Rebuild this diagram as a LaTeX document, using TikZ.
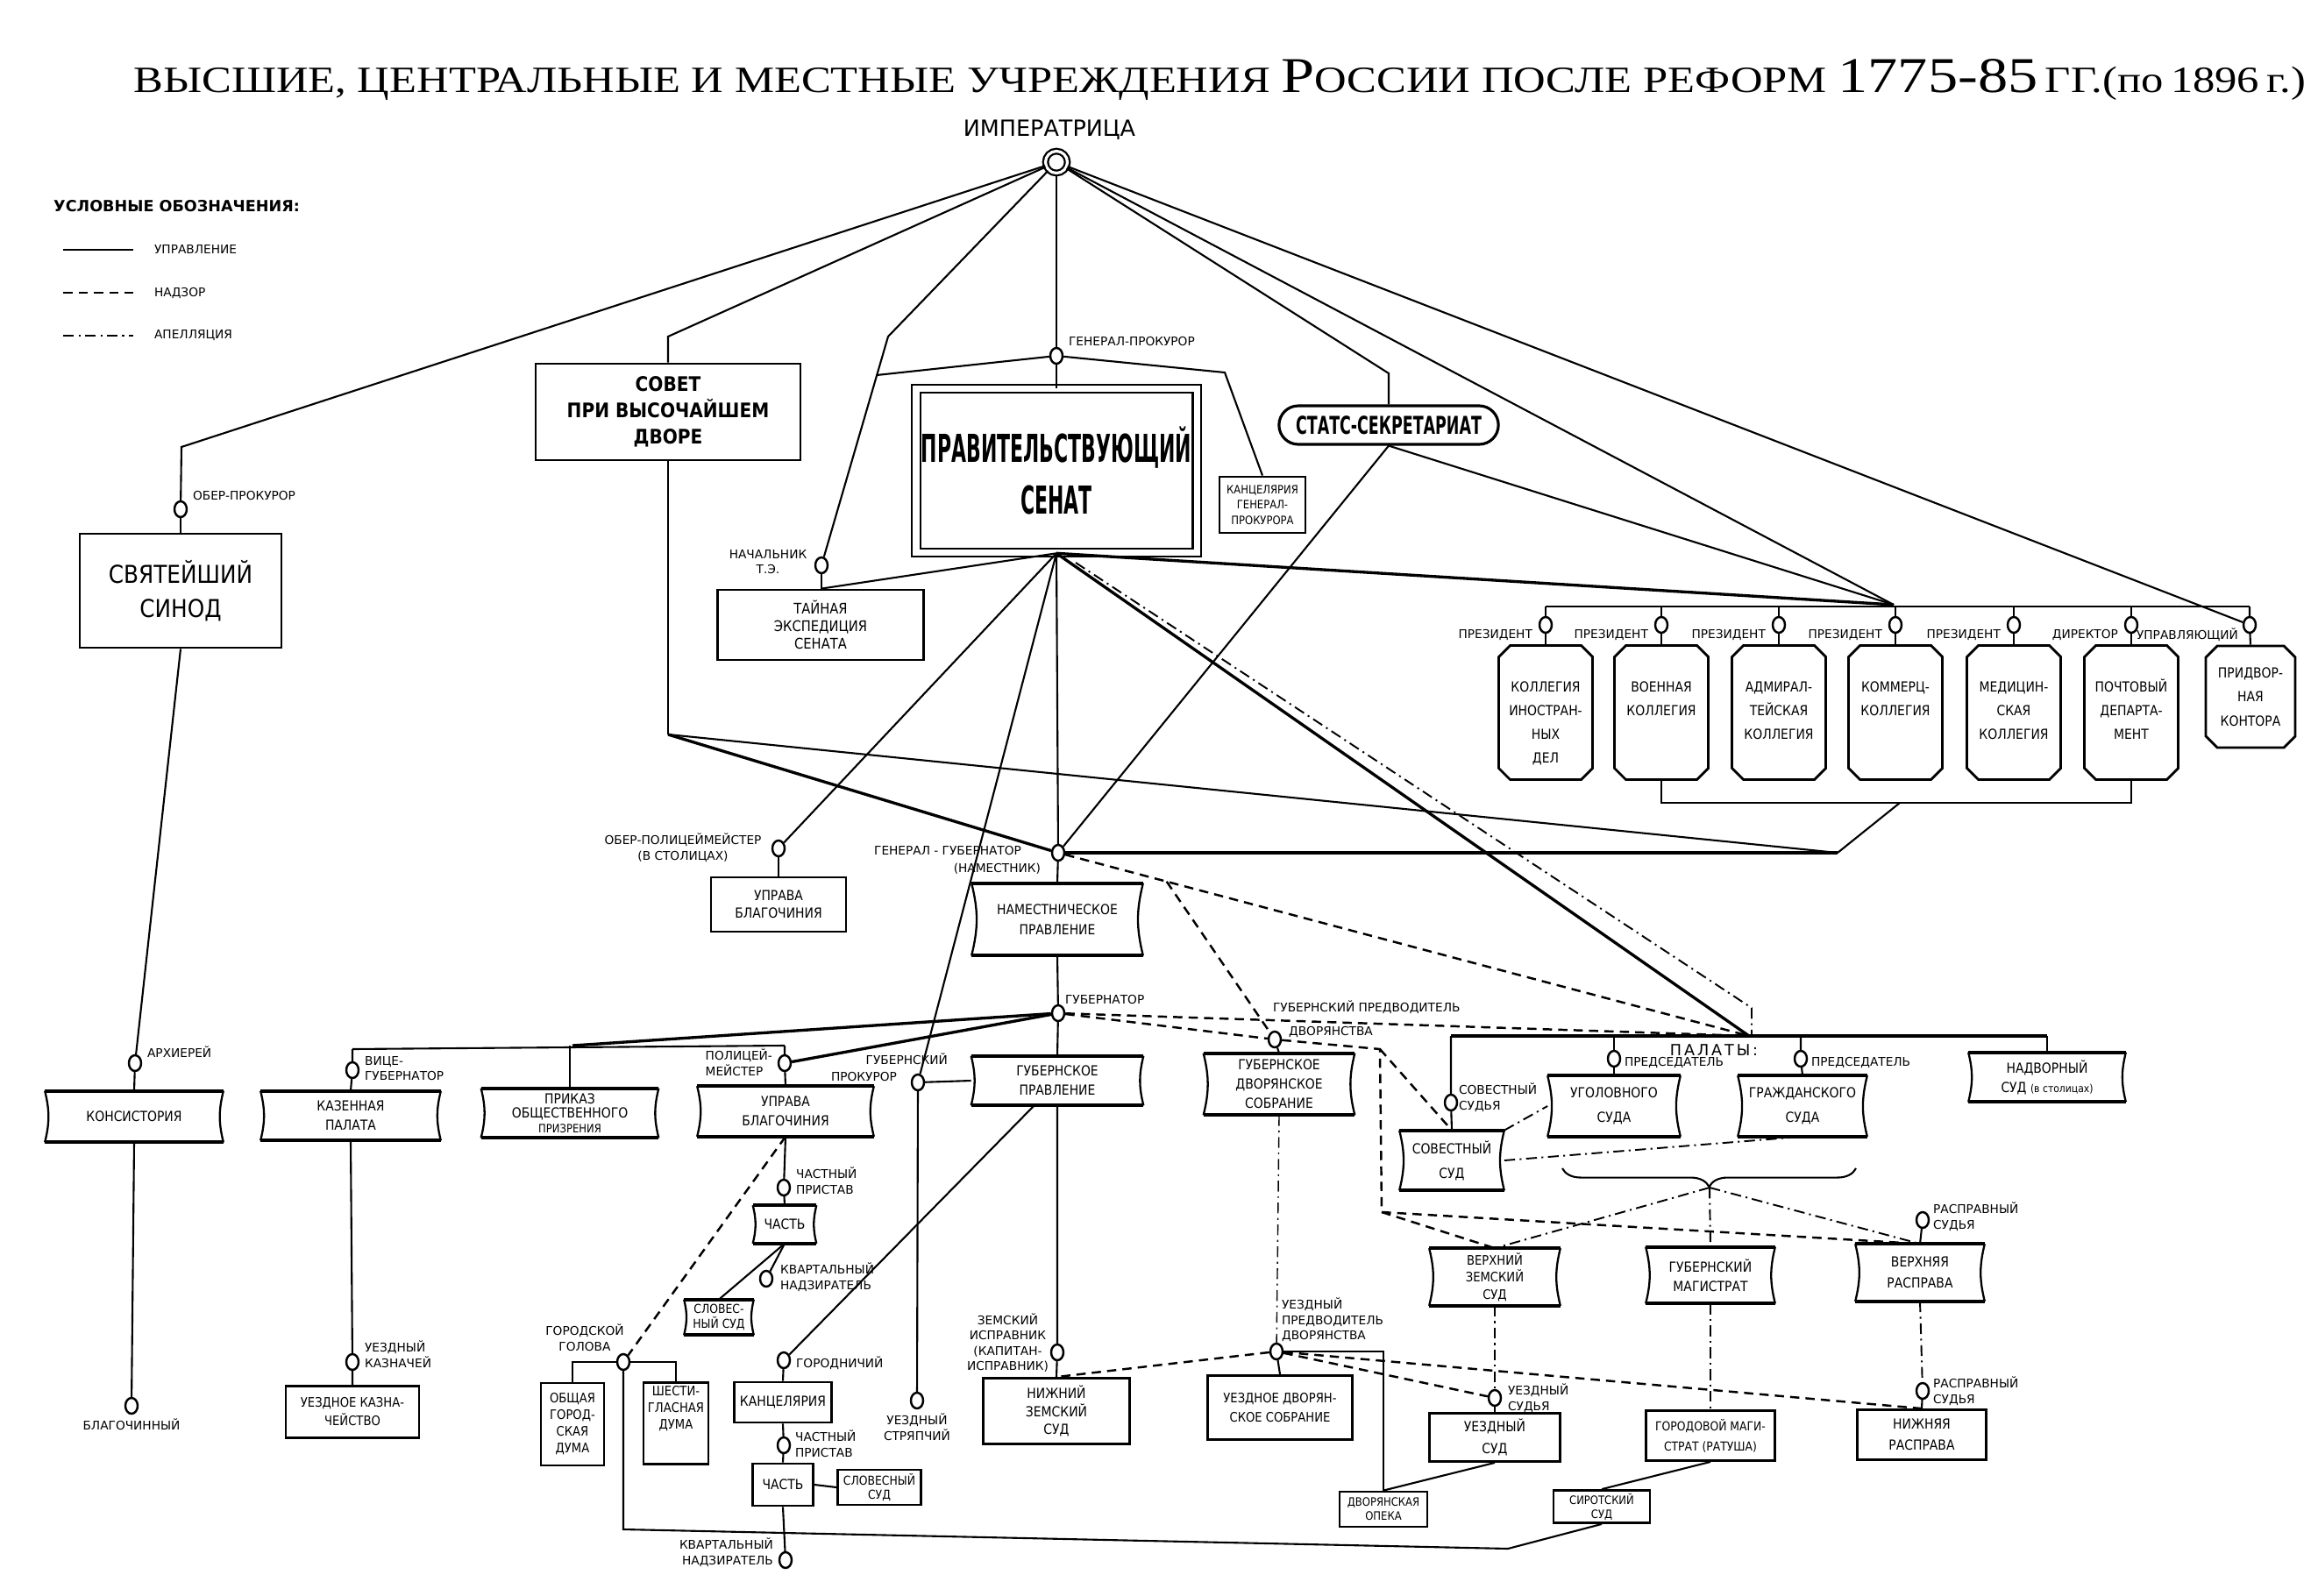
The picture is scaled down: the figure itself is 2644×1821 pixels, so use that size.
\documentclass[tikz,border=0pt]{standalone}
\usepackage{fontspec}
\usepackage{graphicx}
\setmainfont{DejaVu Sans}
\newfontfamily\lblfont{DejaVu Sans}
\newfontfamily\boxfont[FakeStretch=0.88]{DejaVu Sans}
\newfontfamily\condfont[FakeStretch=0.62]{DejaVu Sans}
\newfontfamily\senatfont[FakeStretch=0.5]{DejaVu Sans}
\newfontfamily\titlefont{Liberation Serif}
\usetikzlibrary{shapes.geometric,shapes.misc,decorations.pathreplacing,calc}

\tikzset{
  lbl/.style={font=\lblfont\fontsize{7.8}{10}\selectfont, inner sep=1pt, align=left},
  krug/.style={draw, ellipse, fill=white, line width=1.4pt, inner sep=0pt,
    minimum width=0.28cm, minimum height=0.36cm},
  rbox/.style={draw, line width=1.6pt, align=center, inner sep=1pt,
    font=\boxfont\fontsize{9}{12.5}\selectfont},
  cbox/.style={align=center, inner sep=1pt, font=\boxfont\fontsize{9}{12.5}\selectfont},
  kolleg/.style={draw, chamfered rectangle, chamfered rectangle xsep=0.13cm,
    chamfered rectangle ysep=0.13cm, line width=1.6pt, inner sep=0pt,
    minimum width=2.14cm, minimum height=3.06cm, font=\boxfont\fontsize{9}{15.5}\selectfont},
  upr/.style={line width=1.2pt},
  upr2/.style={line width=1.9pt},
  nadzor/.style={line width=1.4pt, dash pattern=on 6pt off 4pt},
  apell/.style={line width=1.1pt, dash pattern=on 7pt off 3pt on 1.2pt off 3pt},
}

\begin{document}
\begin{tikzpicture}[x=0.2mm, y=-0.2mm]
\useasboundingbox (0,0) rectangle (2644,1821);

% Заголовок
\node[anchor=base west, inner sep=0pt] (title) at (152,106)
  {\resizebox{49.56cm}{0.76cm}{\titlefont\fontsize{20}{20}\selectfont
   ВЫСШИЕ, ЦЕНТРАЛЬНЫЕ И МЕСТНЫЕ УЧРЕЖДЕНИЯ {\fontsize{27}{27}\selectfont Р}ОССИИ ПОСЛЕ РЕФОРМ
   {\fontsize{27}{27}\selectfont 1775-85}\,ГГ.(по\,1896\,г.)}};

% Условные обозначения
\node[anchor=west, font=\lblfont\bfseries\fontsize{10}{12}\selectfont] (leg) at (55,235) {УСЛОВНЫЕ ОБОЗНАЧЕНИЯ:};
\draw[upr] (72,285) -- (152,285);
\draw[nadzor] (72,334) -- (152,334);
\draw[apell] (72,383) -- (152,383);
\node[lbl, anchor=west] (leg1) at (174,285) {УПРАВЛЕНИЕ};
\node[lbl, anchor=west] (leg2) at (174,334) {НАДЗОР};
\node[lbl, anchor=west] (leg3) at (174,383) {АПЕЛЛЯЦИЯ};

% Императрица
\node[draw, circle, double, double distance=1.8pt, line width=1.3pt, fill=white,
  minimum size=0.5cm, inner sep=0pt] (imp) at (1205,185) {};
\node[font=\lblfont\fontsize{14.5}{16}\selectfont] (impl) at (1197,148) {ИМПЕРАТРИЦА};

% Высшие и центральные учреждения
\node[rbox, minimum width=4.6cm, minimum height=2.6cm,
  font=\boxfont\fontsize{16}{22}\selectfont] (sinod) at (206,674) {СВЯТЕЙШИЙ\\СИНОД};
\node[rbox, minimum width=6.04cm, minimum height=2.2cm,
  font=\boxfont\bfseries\fontsize{13}{17}\selectfont] (sovet) at (762,470) {СОВЕТ\\ПРИ ВЫСОЧАЙШЕМ\\ДВОРЕ};
\node[draw, double, double distance=4pt, line width=1.2pt, minimum width=6.4cm, minimum height=3.73cm,
  align=center, font=\senatfont\bfseries\fontsize{25}{34}\selectfont] (senat) at (1205,537)
  {ПРАВИТЕЛЬСТВУЮЩИЙ\\СЕНАТ};
\node[rbox, minimum width=1.96cm, minimum height=1.28cm,
  font=\boxfont\fontsize{7.5}{10}\selectfont] (kancgp) at (1440,576) {КАНЦЕЛЯРИЯ\\ГЕНЕРАЛ-\\ПРОКУРОРА};
\node[draw, rounded rectangle, line width=1.8pt, minimum width=5.24cm, minimum height=0.88cm,
  font=\condfont\bfseries\fontsize{16}{18}\selectfont] (stats) at (1584,485) {СТАТС-СЕКРЕТАРИАТ};
\node[rbox, minimum width=4.7cm, minimum height=1.6cm,
  font=\boxfont\fontsize{9.5}{11.5}\selectfont] (tainaya) at (936,713) {ТАЙНАЯ\\ЭКСПЕДИЦИЯ\\СЕНАТА};
\node[rbox, minimum width=3.08cm, minimum height=1.24cm,
  font=\boxfont\fontsize{9}{11.5}\selectfont] (uprava1) at (888,1032) {УПРАВА\\БЛАГОЧИНИЯ};

\node[krug] (oberpr) at (206,581) {};
\node[krug] (genpr) at (1205,406) {};
\node[krug] (nachte) at (937,645) {};
\node[krug] (oberpol) at (888,968) {};
\node[krug] (gg) at (1207,973) {};
\node[lbl, anchor=west] (l-oberpr) at (218,566) {ОБЕР-ПРОКУРОР};
\node[lbl, anchor=west] (l-genpr) at (1217,390) {ГЕНЕРАЛ-ПРОКУРОР};
\node[lbl, align=center] (l-nachte) at (876,641) {НАЧАЛЬНИК\\Т.Э.};
\node[lbl, align=center] (l-oberpol) at (779,967) {ОБЕР-ПОЛИЦЕЙМЕЙСТЕР\\(В СТОЛИЦАХ)};
\node[lbl, anchor=east] (l-gg1) at (1167,971) {ГЕНЕРАЛ - ГУБЕРНАТОР};
\node[lbl, anchor=east] (l-gg2) at (1189,991) {(НАМЕСТНИК)};

% Коллегии
\foreach \i/\x/\t in {1/1763/{КОЛЛЕГИЯ\\ИНОСТРАН-\\НЫХ\\ДЕЛ}, 2/1895/{ВОЕННАЯ\\КОЛЛЕГИЯ},
    3/2029/{АДМИРАЛ-\\ТЕЙСКАЯ\\КОЛЛЕГИЯ}, 4/2162/{КОММЕРЦ-\\КОЛЛЕГИЯ},
    5/2297/{МЕДИЦИН-\\СКАЯ\\КОЛЛЕГИЯ}, 6/2431/{ПОЧТОВЫЙ\\ДЕПАРТА-\\МЕНТ}}
{
  \node[kolleg] (k\i) at (\x,813) {\parbox[c][2.6cm][t]{1.8cm}{\centering\rule{0pt}{0.82cm}\t}};
  \node[krug] (pk\i) at (\x,713) {};
}
\node[kolleg, minimum width=2.04cm, minimum height=2.32cm, align=center] (k7) at (2567,795) {ПРИДВОР-\\НАЯ\\КОНТОРА};
\node[krug] (pk7) at (2566,713) {};
\foreach \i/\x in {1/1763,2/1895,3/2029,4/2162,5/2297}
  \node[lbl, anchor=east] (lp\i) at (\x-13,724) {ПРЕЗИДЕНТ};
\node[lbl, anchor=east] (lp6) at (2418,724) {ДИРЕКТОР};
\node[lbl, anchor=east] (lp7) at (2555,724) {УПРАВЛЯЮЩИЙ};

% Губернские учреждения
\node[cbox, minimum width=3.9cm, minimum height=1.64cm, font=\boxfont\fontsize{9}{13.5}\selectfont] (namestn) at (1206,1049) {НАМЕСТНИЧЕСКОЕ\\ПРАВЛЕНИЕ};
\node[cbox, minimum width=4.06cm, minimum height=1.16cm] (konsist) at (153,1274) {КОНСИСТОРИЯ};
\node[cbox, minimum width=4.1cm, minimum height=1.12cm] (kazpal) at (400,1273) {КАЗЕННАЯ\\ПАЛАТА};
\node[cbox, minimum width=4.04cm, minimum height=1.12cm, font=\boxfont\fontsize{9}{9.5}\selectfont] (prikaz) at (650,1270)
  {ПРИКАЗ\\ОБЩЕСТВЕННОГО\\{\fontsize{7.5}{8}\selectfont ПРИЗРЕНИЯ}};
\node[cbox, minimum width=4.02cm, minimum height=1.14cm] (uprava2) at (896,1268) {УПРАВА\\БЛАГОЧИНИЯ};
\node[cbox, minimum width=3.92cm, minimum height=1.12cm] (gubpr) at (1206,1233) {ГУБЕРНСКОЕ\\ПРАВЛЕНИЕ};
\node[cbox, minimum width=3.44cm, minimum height=1.4cm] (gubdvor) at (1459,1237) {ГУБЕРНСКОЕ\\ДВОРЯНСКОЕ\\СОБРАНИЕ};
\node[cbox, minimum width=2.38cm, minimum height=1.36cm, font=\boxfont\fontsize{9}{16}\selectfont] (sovsud) at (1656,1324) {СОВЕСТНЫЙ\\СУД};
\node[cbox, minimum width=3.02cm, minimum height=1.38cm, font=\boxfont\fontsize{9}{16}\selectfont] (ugol) at (1841,1262) {УГОЛОВНОГО\\СУДА};
\node[cbox, minimum width=2.94cm, minimum height=1.38cm, font=\boxfont\fontsize{9}{16}\selectfont] (grazh) at (2056,1262) {ГРАЖДАНСКОГО\\СУДА};
\node[cbox, minimum width=3.58cm, minimum height=1.12cm] (nadvor) at (2335,1229) {НАДВОРНЫЙ\\СУД {\fontsize{7}{8}\selectfont(в столицах)}};
\node[cbox, minimum width=2.98cm, minimum height=1.3cm, font=\boxfont\fontsize{8.5}{11}\selectfont] (verhzem) at (1705,1457) {ВЕРХНИЙ\\ЗЕМСКИЙ\\СУД};
\node[cbox, minimum width=2.94cm, minimum height=1.28cm] (gubmag) at (1951,1455) {ГУБЕРНСКИЙ\\МАГИСТРАТ};
\node[cbox, minimum width=2.94cm, minimum height=1.3cm, font=\boxfont\fontsize{9}{14}\selectfont] (verhrasp) at (2190,1452) {ВЕРХНЯЯ\\РАСПРАВА};
\node[cbox, minimum width=1.44cm, minimum height=0.86cm] (chast1) at (895,1397) {ЧАСТЬ};
\node[cbox, minimum width=1.58cm, minimum height=0.8cm, font=\boxfont\fontsize{8}{9.5}\selectfont] (slovsud1) at (820,1503) {СЛОВЕС-\\НЫЙ СУД};

% Уездные учреждения
\node[rbox, minimum width=2.98cm, minimum height=1.1cm, font=\boxfont\fontsize{9}{14}\selectfont] (uezdsud) at (1705,1640) {УЕЗДНЫЙ\\СУД};
\node[rbox, minimum width=2.94cm, minimum height=1.14cm, font=\boxfont\fontsize{8}{13}\selectfont] (gormag) at (1951,1638) {ГОРОДОВОЙ МАГИ-\\СТРАТ (РАТУША)};
\node[rbox, minimum width=2.94cm, minimum height=1.14cm, font=\boxfont\fontsize{9}{14}\selectfont] (nizhrasp) at (2192,1637) {НИЖНЯЯ\\РАСПРАВА};
\node[rbox, minimum width=2.0cm, minimum height=0.8cm, font=\boxfont\fontsize{7.5}{9}\selectfont] (dvoropeka) at (1578,1722) {ДВОРЯНСКАЯ\\ОПЕКА};
\node[rbox, minimum width=2.2cm, minimum height=0.74cm, font=\boxfont\fontsize{7.5}{9}\selectfont] (sirot) at (1827,1719) {СИРОТСКИЙ\\СУД};
\node[rbox, minimum width=3.34cm, minimum height=1.5cm, font=\boxfont\fontsize{9}{11.5}\selectfont] (nizhzem) at (1205,1610) {НИЖНИЙ\\ЗЕМСКИЙ\\СУД};
\node[rbox, minimum width=3.3cm, minimum height=1.46cm, font=\boxfont\fontsize{8.5}{13}\selectfont] (uezddvor) at (1460,1606) {УЕЗДНОЕ ДВОРЯН-\\СКОЕ СОБРАНИЕ};
\node[rbox, minimum width=1.44cm, minimum height=1.88cm, font=\boxfont\fontsize{8.5}{10.8}\selectfont] (obshdum) at (653,1625) {ОБЩАЯ\\ГОРОД-\\СКАЯ\\ДУМА};
\node[rbox, minimum width=1.48cm, minimum height=1.86cm, font=\boxfont\fontsize{8.5}{10.8}\selectfont] (shestdum) at (771,1624)
  {\parbox[c][1.7cm][t]{1.3cm}{\centering ШЕСТИ-\\ГЛАСНАЯ\\ДУМА}};
\node[rbox, minimum width=2.22cm, minimum height=0.92cm] (kanc) at (893,1600) {КАНЦЕЛЯРИЯ};
\node[rbox, minimum width=1.38cm, minimum height=0.96cm] (chast2) at (893,1694) {ЧАСТЬ};
\node[rbox, minimum width=1.9cm, minimum height=0.8cm, font=\boxfont\fontsize{8}{9.5}\selectfont] (slovsud2) at (1003,1697) {СЛОВЕСНЫЙ\\СУД};
\node[rbox, minimum width=3.04cm, minimum height=1.18cm, font=\boxfont\fontsize{8.5}{12}\selectfont] (uezdkazn) at (402,1611) {УЕЗДНОЕ КАЗНА-\\ЧЕЙСТВО};

% Должностные лица
\node[krug] (gub) at (1207,1156) {};
\node[krug] (arh) at (154,1213) {};
\node[krug] (blag) at (150,1604) {};
\node[krug] (vicegub) at (402,1221) {};
\node[krug] (uezdkaz) at (402,1554) {};
\node[krug] (polm) at (895,1213) {};
\node[krug] (gubprok) at (1047,1235) {};
\node[krug] (chpr1) at (894,1355) {};
\node[krug] (kvn1) at (874,1459) {};
\node[krug] (golova) at (711,1554) {};
\node[krug] (gorodn) at (894,1552) {};
\node[krug] (chpr2) at (894,1649) {};
\node[krug] (kvn2) at (896,1780) {};
\node[krug] (strjap) at (1046,1598) {};
\node[krug] (zemispr) at (1206,1543) {};
\node[krug] (gubpred) at (1454,1186) {};
\node[krug] (uezdpred) at (1456,1542) {};
\node[krug] (sovsudja) at (1655,1258) {};
\node[krug] (pred1) at (1841,1208) {};
\node[krug] (pred2) at (2054,1208) {};
\node[krug] (raspsud1) at (2193,1392) {};
\node[krug] (uezdsudja) at (1705,1595) {};
\node[krug] (raspsud2) at (2193,1587) {};

\node[lbl, anchor=west] (l-gub) at (1213,1140) {ГУБЕРНАТОР};
\node[lbl, anchor=west] (l-arh) at (166,1200) {АРХИЕРЕЙ};
\node[lbl] (l-blag) at (150,1625) {БЛАГОЧИННЫЙ};
\node[lbl, anchor=west] (l-vicegub) at (414,1219) {ВИЦЕ-\\ГУБЕРНАТОР};
\node[lbl, anchor=west] (l-uezdkaz) at (414,1545) {УЕЗДНЫЙ\\КАЗНАЧЕЙ};
\node[lbl, anchor=east] (l-polm) at (883,1212) {ПОЛИЦЕЙ-\\МЕЙСТЕР};
\node[lbl, anchor=east] (l-gubprok1) at (1083,1208) {ГУБЕРНСКИЙ};
\node[lbl, anchor=east] (l-gubprok2) at (1025,1228) {ПРОКУРОР};
\node[lbl, anchor=west] (l-chpr1) at (906,1347) {ЧАСТНЫЙ\\ПРИСТАВ};
\node[lbl, anchor=west] (l-kvn1) at (888,1457) {КВАРТАЛЬНЫЙ\\НАДЗИРАТЕЛЬ};
\node[lbl, align=center] (l-golova) at (667,1526) {ГОРОДСКОЙ\\ГОЛОВА};
\node[lbl, anchor=west] (l-gorodn) at (906,1555) {ГОРОДНИЧИЙ};
\node[lbl, anchor=west] (l-chpr2) at (905,1647) {ЧАСТНЫЙ\\ПРИСТАВ};
\node[lbl, anchor=east, align=right] (l-kvn2) at (884,1771) {КВАРТАЛЬНЫЙ\\НАДЗИРАТЕЛЬ};
\node[lbl, anchor=north, align=center] (l-strjap) at (1046,1611) {УЕЗДНЫЙ\\СТРЯПЧИЙ};
\node[lbl, anchor=east, align=center] (l-zemispr) at (1198,1532) {ЗЕМСКИЙ\\ИСПРАВНИК\\(КАПИТАН-\\ИСПРАВНИК)};
\node[lbl, anchor=west] (l-gubpred1) at (1450,1149) {ГУБЕРНСКИЙ ПРЕДВОДИТЕЛЬ};
\node[lbl, anchor=west] (l-gubpred2) at (1468,1177) {ДВОРЯНСТВА};
\node[lbl, anchor=south west] (l-uezdpred) at (1460,1533) {УЕЗДНЫЙ\\ПРЕДВОДИТЕЛЬ\\ДВОРЯНСТВА};
\node[lbl, anchor=west] (l-sovsudja) at (1662,1252) {СОВЕСТНЫЙ\\СУДЬЯ};
\node[lbl, anchor=west] (l-pred1) at (1851,1212) {ПРЕДСЕДАТЕЛЬ};
\node[lbl, anchor=west] (l-pred2) at (2064,1212) {ПРЕДСЕДАТЕЛЬ};
\node[font=\lblfont\fontsize{10}{12}\selectfont] (l-palaty) at (1955,1198) {П\,А\,Л\,А\,Т\,Ы\,:};
\node[lbl, anchor=west] (l-raspsud1) at (2203,1388) {РАСПРАВНЫЙ\\СУДЬЯ};
\node[lbl, anchor=west] (l-uezdsudja) at (1718,1595) {УЕЗДНЫЙ\\СУДЬЯ};
\node[lbl, anchor=west] (l-raspsud2) at (2203,1587) {РАСПРАВНЫЙ\\СУДЬЯ};

% Вогнутые рамки
\foreach \n in {namestn,konsist,kazpal,prikaz,uprava2,gubpr,gubdvor,sovsud,ugol,grazh,
    nadvor,verhzem,gubmag,verhrasp,chast1,slovsud1}
{
  \draw[line width=1.3pt] (\n.north west) to[bend left=14] (\n.south west);
  \draw[line width=1.3pt] (\n.south east) to[bend left=14] (\n.north east);
  \draw[line width=2.3pt] (\n.north west) -- (\n.north east) (\n.south west) -- (\n.south east);
}

% Связи от императрицы
\coordinate (kolv) at (2160,690);
\draw[upr] (imp) -- (207,510) -- (oberpr);
\draw[upr] (oberpr) -- (sinod.north);
\draw[upr] (imp) -- (762,384) -- (sovet.north);
\draw[upr] (imp) -- (1013,384) -- (nachte);
\draw[upr] (nachte) -- (tainaya.north -| nachte);
\draw[upr] (imp) -- (genpr) -- (senat.north);
\draw[upr] (genpr) -- (1000,428);
\draw[upr] (genpr) -- (1397,425) -- (kancgp.north);
\draw[upr] (imp) -- (1584,426) -- (stats.north);
\draw[upr] (imp) -- (kolv);
\draw[upr] (stats.south) -- (kolv);
\draw[upr2] (senat.south) -- (kolv);
\draw[upr] (imp) -- (pk7);

% Коллегии
\draw[upr] (1763,692) -- (2566,692);
\foreach \i in {1,...,7}
  \draw[upr] (pk\i |- 0,692) -- (pk\i) -- (k\i.north);
\coordinate (kolb) at (2167,916);
\coordinate (ggr) at (2096,973);
\draw[upr] (k2.south) -- (1895,916) -- (2431,916) -- (k6.south);
\draw[upr] (kolb) -- (ggr);

% Совет и Сенат вниз
\coordinate (sovd) at (762,838);
\coordinate (palaty) at (1995,1182);
\draw[upr] (sovet.south) -- (sovd);
\draw[upr2] (sovd) -- (gg);
\draw[upr] (sovd) -- (ggr);
\draw[upr2] (gg) -- (ggr);
\draw[upr] (senat.south) -- (tainaya.north -| nachte);
\draw[upr] (senat.south) -- (oberpol);
\draw[upr] (oberpol) -- (uprava1.north);
\draw[upr] (senat.south) -- (gubprok);
\draw[upr] (senat.south) -- (gg);
\draw[upr] (stats.south) -- (gg);
\draw[upr2] (senat.south) -- (palaty);
\draw[apell] (1227,642) -- (1998,1150) -- (1998,1182);

% Наместник и губернатор
\coordinate (ggd) at ($(gg)!0.157!(palaty)$);
\coordinate (kazm) at (653,1193);
\draw[upr] (gg) -- (namestn.north);
\draw[upr] (namestn.south) -- (gub);
\draw[nadzor] (gg) -- (palaty);
\draw[nadzor] (ggd) -- (gubpred);
\draw[upr2] (gub) -- (kazm);
\draw[upr] (402,1197) -- (895,1193);
\draw[upr] (402,1197) -- (vicegub) -- (kazpal.north);
\draw[upr] (prikaz.north |- kazm) -- (prikaz.north);
\draw[upr] (895,1193) -- (polm) -- (uprava2.north);
\draw[upr2] (polm) -- (gub);
\draw[upr] (gub) -- (gubpr.north);
\draw[nadzor] (gub) -- (palaty);
\draw[nadzor] (gub) -- (gubpred);
\draw[upr] (gubpred) -- (gubdvor.north);
\draw[upr] (gubprok) -- (gubpr.west);
\draw[upr] (gubprok) -- (strjap);
\draw[upr] (gubpr.south) -- (zemispr) -- (nizhzem.north);

% Город
\draw[upr] (1180,1261) -- (gorodn);
\draw[upr] (gorodn) -- (kanc.north);
\draw[upr] (kanc.south) -- (chpr2) -- (chast2.north);
\draw[upr] (chast2.east) -- (slovsud2.west);
\draw[upr] (chast2.south) -- (kvn2);
\draw[upr] (uprava2.south) -- (chpr1) -- (chast1.north);
\draw[upr] (chast1.south) -- (kvn1);
\draw[upr] (chast1.south) -- (slovsud1.north);
\draw[nadzor] (uprava2.south) -- (golova);
\draw[upr] (golova) -- (golova -| obshdum.north) -- (obshdum.north);
\draw[upr] (golova) -- (golova -| shestdum.north) -- (shestdum.north);
\draw[upr] (golova) -- (711,1745) -- (1720,1767) -- (sirot.south);

% Синод и казенная палата
\draw[upr] (sinod.south) -- (arh) -- (konsist.north);
\draw[upr] (konsist.south) -- (blag);
\draw[upr] (kazpal.south) -- (uezdkaz) -- (uezdkazn.north);

% Палаты
\draw[upr2] (sovsudja |- palaty) -- (nadvor.north |- palaty);
\draw[upr] (sovsudja |- palaty) -- (sovsudja) -- (sovsud.north);
\draw[upr] (pred1 |- palaty) -- (pred1) -- (ugol.north);
\draw[upr] (pred2 |- palaty) -- (pred2) -- (grazh.north);
\draw[upr] (nadvor.north |- palaty) -- (nadvor.north);
\draw[apell] (sovsud.east) -- (grazh.south);
\draw[apell] (sovsud.north east) -- (ugol.west);
\draw[decorate, decoration={brace, amplitude=12pt}, line width=1.2pt] (2117,1333) -- (1782,1333);

% Суды
\coordinate (skoba) at (1950,1355);
\coordinate (dvb) at (1574,1197);
\coordinate (dvn) at (1576,1383);
\draw[apell] (skoba) -- (verhzem.north);
\draw[apell] (skoba) -- (gubmag.north);
\draw[apell] (skoba) -- (verhrasp.north);
\draw[nadzor] (gubpred) -- (dvb) -- (dvn);
\draw[nadzor] (dvb) -- (sovsud.north);
\draw[nadzor] (dvn) -- (verhzem.north);
\draw[nadzor] (dvn) -- (verhrasp.north);
\draw[upr] (raspsud1) -- (verhrasp.north);
\draw[apell] (verhzem.south) -- (uezdsudja);
\draw[upr] (uezdsudja) -- (uezdsud.north);
\draw[apell] (gubmag.south) -- (gormag.north);
\draw[apell] (verhrasp.south) -- (raspsud2);
\draw[upr] (raspsud2) -- (nizhrasp.north);
\draw[upr] (uezdsud.south) -- (dvoropeka.north);
\draw[upr] (gormag.south) -- (sirot.north);

% Уездный предводитель
\draw[apell, line width=0.8pt] (gubdvor.south) -- (uezdpred);
\draw[upr] (uezdpred) -- (uezddvor.north);
\draw[nadzor] (uezdpred) -- (nizhzem.north);
\draw[nadzor] (uezdpred) -- (uezdsudja);
\draw[nadzor] (uezdpred) -- (nizhrasp.north);
\draw[upr] (uezdpred) -- (uezdpred -| dvoropeka.north) -- (dvoropeka.north);
\end{tikzpicture}
\end{document}
